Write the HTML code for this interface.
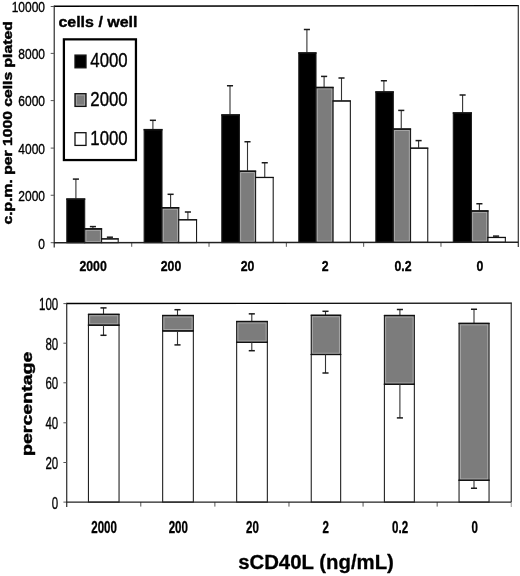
<!DOCTYPE html>
<html><head><meta charset="utf-8"><title>chart</title>
<style>
html,body{margin:0;padding:0;background:#fff;}
body{width:520px;height:576px;overflow:hidden;font-family:"Liberation Sans",sans-serif;}
svg{display:block;font-family:"Liberation Sans",sans-serif;will-change:transform;}
</style></head><body>
<svg width="520" height="576" viewBox="0 0 520 576">
<rect x="0" y="0" width="520" height="576" fill="#fff"/>
<line x1="54.25" y1="5.70" x2="54.25" y2="247.50" stroke="#444" stroke-width="1.35"/>
<line x1="53.80" y1="6.30" x2="518.80" y2="5.60" stroke="#000" stroke-width="1.4"/>
<line x1="518.30" y1="5.00" x2="518.30" y2="247.00" stroke="#333" stroke-width="1.2"/>
<line x1="131.72" y1="242.63" x2="131.72" y2="246.80" stroke="#555" stroke-width="1"/>
<line x1="209.03" y1="242.57" x2="209.03" y2="246.80" stroke="#555" stroke-width="1"/>
<line x1="286.35" y1="242.50" x2="286.35" y2="246.80" stroke="#555" stroke-width="1"/>
<line x1="363.67" y1="242.43" x2="363.67" y2="246.80" stroke="#555" stroke-width="1"/>
<line x1="440.98" y1="242.37" x2="440.98" y2="246.80" stroke="#555" stroke-width="1"/>
<line x1="50.70" y1="6.50" x2="54.40" y2="6.50" stroke="#555" stroke-width="1"/>
<text transform="translate(45.0,12.3) scale(0.8,1)" text-anchor="end" font-size="15" stroke="#000" stroke-width="0.35" stroke-linejoin="round" fill="#000">10000</text>
<line x1="50.70" y1="53.40" x2="54.40" y2="53.40" stroke="#555" stroke-width="1"/>
<text transform="translate(45.0,59.199999999999996) scale(0.8,1)" text-anchor="end" font-size="15" stroke="#000" stroke-width="0.35" stroke-linejoin="round" fill="#000">8000</text>
<line x1="50.70" y1="100.60" x2="54.40" y2="100.60" stroke="#555" stroke-width="1"/>
<text transform="translate(45.0,106.39999999999999) scale(0.8,1)" text-anchor="end" font-size="15" stroke="#000" stroke-width="0.35" stroke-linejoin="round" fill="#000">6000</text>
<line x1="50.70" y1="148.10" x2="54.40" y2="148.10" stroke="#555" stroke-width="1"/>
<text transform="translate(45.0,153.9) scale(0.8,1)" text-anchor="end" font-size="15" stroke="#000" stroke-width="0.35" stroke-linejoin="round" fill="#000">4000</text>
<line x1="50.70" y1="195.25" x2="54.40" y2="195.25" stroke="#555" stroke-width="1"/>
<text transform="translate(45.0,201.05) scale(0.8,1)" text-anchor="end" font-size="15" stroke="#000" stroke-width="0.35" stroke-linejoin="round" fill="#000">2000</text>
<line x1="50.70" y1="242.70" x2="54.40" y2="242.70" stroke="#555" stroke-width="1"/>
<text transform="translate(45.0,249.0) scale(0.8,1)" text-anchor="end" font-size="15" stroke="#000" stroke-width="0.35" stroke-linejoin="round" fill="#000">0</text>
<line x1="75.90" y1="179.10" x2="75.90" y2="198.60" stroke="#333" stroke-width="1.1"/>
<line x1="72.85" y1="179.10" x2="78.95" y2="179.10" stroke="#1a1a1a" stroke-width="1.5"/>
<line x1="92.90" y1="226.60" x2="92.90" y2="228.40" stroke="#333" stroke-width="1.1"/>
<line x1="89.85" y1="226.60" x2="95.95" y2="226.60" stroke="#1a1a1a" stroke-width="1.5"/>
<line x1="109.90" y1="237.20" x2="109.90" y2="238.40" stroke="#333" stroke-width="1.1"/>
<line x1="106.85" y1="237.20" x2="112.95" y2="237.20" stroke="#1a1a1a" stroke-width="1.5"/>
<rect x="66.80" y="199.10" width="17.90" height="43.59" fill="#000" stroke="#1c1c1c" stroke-width="1.1"/>
<line x1="66.25" y1="199.05" x2="85.25" y2="199.05" stroke="#111" stroke-width="1.5"/>
<rect x="84.70" y="228.90" width="16.90" height="13.77" fill="#7c7c7c" stroke="#1c1c1c" stroke-width="1.1"/>
<rect x="86.00" y="230.30" width="14.30" height="11.07" fill="none" stroke="#b0b0b0" stroke-width="0.8"/>
<line x1="84.15" y1="228.85" x2="102.15" y2="228.85" stroke="#111" stroke-width="1.5"/>
<rect x="101.60" y="238.90" width="16.60" height="3.76" fill="#fff" stroke="#1c1c1c" stroke-width="1.1"/>
<line x1="101.05" y1="238.85" x2="118.75" y2="238.85" stroke="#111" stroke-width="1.2"/>
<line x1="152.90" y1="120.30" x2="152.90" y2="129.20" stroke="#333" stroke-width="1.1"/>
<line x1="149.85" y1="120.30" x2="155.95" y2="120.30" stroke="#1a1a1a" stroke-width="1.5"/>
<line x1="170.60" y1="194.30" x2="170.60" y2="207.30" stroke="#333" stroke-width="1.1"/>
<line x1="167.55" y1="194.30" x2="173.65" y2="194.30" stroke="#1a1a1a" stroke-width="1.5"/>
<line x1="187.90" y1="212.00" x2="187.90" y2="219.30" stroke="#333" stroke-width="1.1"/>
<line x1="184.85" y1="212.00" x2="190.95" y2="212.00" stroke="#1a1a1a" stroke-width="1.5"/>
<rect x="144.15" y="129.70" width="17.85" height="112.92" fill="#000" stroke="#1c1c1c" stroke-width="1.1"/>
<line x1="143.60" y1="129.65" x2="162.55" y2="129.65" stroke="#111" stroke-width="1.5"/>
<rect x="162.00" y="207.80" width="16.75" height="34.81" fill="#7c7c7c" stroke="#1c1c1c" stroke-width="1.1"/>
<rect x="163.30" y="209.20" width="14.15" height="32.11" fill="none" stroke="#b0b0b0" stroke-width="0.8"/>
<line x1="161.45" y1="207.75" x2="179.30" y2="207.75" stroke="#111" stroke-width="1.5"/>
<rect x="178.75" y="219.80" width="17.80" height="22.79" fill="#fff" stroke="#1c1c1c" stroke-width="1.1"/>
<line x1="178.20" y1="219.75" x2="197.10" y2="219.75" stroke="#111" stroke-width="1.2"/>
<line x1="230.00" y1="85.75" x2="230.00" y2="114.50" stroke="#333" stroke-width="1.1"/>
<line x1="226.95" y1="85.75" x2="233.05" y2="85.75" stroke="#1a1a1a" stroke-width="1.5"/>
<line x1="247.50" y1="141.75" x2="247.50" y2="170.75" stroke="#333" stroke-width="1.1"/>
<line x1="244.45" y1="141.75" x2="250.55" y2="141.75" stroke="#1a1a1a" stroke-width="1.5"/>
<line x1="264.75" y1="162.75" x2="264.75" y2="177.00" stroke="#333" stroke-width="1.1"/>
<line x1="261.70" y1="162.75" x2="267.80" y2="162.75" stroke="#1a1a1a" stroke-width="1.5"/>
<rect x="221.80" y="115.00" width="17.60" height="127.56" fill="#000" stroke="#1c1c1c" stroke-width="1.1"/>
<line x1="221.25" y1="114.95" x2="239.95" y2="114.95" stroke="#111" stroke-width="1.5"/>
<rect x="239.40" y="171.25" width="16.20" height="71.29" fill="#7c7c7c" stroke="#1c1c1c" stroke-width="1.1"/>
<rect x="240.70" y="172.65" width="13.60" height="68.59" fill="none" stroke="#b0b0b0" stroke-width="0.8"/>
<line x1="238.85" y1="171.20" x2="256.15" y2="171.20" stroke="#111" stroke-width="1.5"/>
<rect x="255.60" y="177.50" width="17.60" height="65.03" fill="#fff" stroke="#1c1c1c" stroke-width="1.1"/>
<line x1="255.05" y1="177.45" x2="273.75" y2="177.45" stroke="#111" stroke-width="1.2"/>
<line x1="306.90" y1="29.50" x2="306.90" y2="52.50" stroke="#333" stroke-width="1.1"/>
<line x1="303.85" y1="29.50" x2="309.95" y2="29.50" stroke="#1a1a1a" stroke-width="1.5"/>
<line x1="324.10" y1="76.40" x2="324.10" y2="87.00" stroke="#333" stroke-width="1.1"/>
<line x1="321.05" y1="76.40" x2="327.15" y2="76.40" stroke="#1a1a1a" stroke-width="1.5"/>
<line x1="341.50" y1="78.00" x2="341.50" y2="100.50" stroke="#333" stroke-width="1.1"/>
<line x1="338.45" y1="78.00" x2="344.55" y2="78.00" stroke="#1a1a1a" stroke-width="1.5"/>
<rect x="298.80" y="53.00" width="17.20" height="189.49" fill="#000" stroke="#1c1c1c" stroke-width="1.1"/>
<line x1="298.25" y1="52.95" x2="316.55" y2="52.95" stroke="#111" stroke-width="1.5"/>
<rect x="316.00" y="87.50" width="17.10" height="154.97" fill="#7c7c7c" stroke="#1c1c1c" stroke-width="1.1"/>
<rect x="317.30" y="88.90" width="14.50" height="152.27" fill="none" stroke="#b0b0b0" stroke-width="0.8"/>
<line x1="315.45" y1="87.45" x2="333.65" y2="87.45" stroke="#111" stroke-width="1.5"/>
<rect x="333.10" y="101.00" width="17.25" height="141.46" fill="#fff" stroke="#1c1c1c" stroke-width="1.1"/>
<line x1="332.55" y1="100.95" x2="350.90" y2="100.95" stroke="#111" stroke-width="1.2"/>
<line x1="383.90" y1="80.75" x2="383.90" y2="91.50" stroke="#333" stroke-width="1.1"/>
<line x1="380.85" y1="80.75" x2="386.95" y2="80.75" stroke="#1a1a1a" stroke-width="1.5"/>
<line x1="401.25" y1="110.40" x2="401.25" y2="128.60" stroke="#333" stroke-width="1.1"/>
<line x1="398.20" y1="110.40" x2="404.30" y2="110.40" stroke="#1a1a1a" stroke-width="1.5"/>
<line x1="418.60" y1="140.60" x2="418.60" y2="147.70" stroke="#333" stroke-width="1.1"/>
<line x1="415.55" y1="140.60" x2="421.65" y2="140.60" stroke="#1a1a1a" stroke-width="1.5"/>
<rect x="375.85" y="92.00" width="17.45" height="150.42" fill="#000" stroke="#1c1c1c" stroke-width="1.1"/>
<line x1="375.30" y1="91.95" x2="393.85" y2="91.95" stroke="#111" stroke-width="1.5"/>
<rect x="393.30" y="129.10" width="17.25" height="113.31" fill="#7c7c7c" stroke="#1c1c1c" stroke-width="1.1"/>
<rect x="394.60" y="130.50" width="14.65" height="110.61" fill="none" stroke="#b0b0b0" stroke-width="0.8"/>
<line x1="392.75" y1="129.05" x2="411.10" y2="129.05" stroke="#111" stroke-width="1.5"/>
<rect x="410.55" y="148.20" width="17.20" height="94.19" fill="#fff" stroke="#1c1c1c" stroke-width="1.1"/>
<line x1="410.00" y1="148.15" x2="428.30" y2="148.15" stroke="#111" stroke-width="1.2"/>
<line x1="462.60" y1="95.00" x2="462.60" y2="112.50" stroke="#333" stroke-width="1.1"/>
<line x1="459.55" y1="95.00" x2="465.65" y2="95.00" stroke="#1a1a1a" stroke-width="1.5"/>
<line x1="479.40" y1="203.75" x2="479.40" y2="210.50" stroke="#333" stroke-width="1.1"/>
<line x1="476.35" y1="203.75" x2="482.45" y2="203.75" stroke="#1a1a1a" stroke-width="1.5"/>
<line x1="496.05" y1="236.10" x2="496.05" y2="237.00" stroke="#333" stroke-width="1.1"/>
<line x1="493.00" y1="236.10" x2="499.10" y2="236.10" stroke="#1a1a1a" stroke-width="1.5"/>
<rect x="453.30" y="113.00" width="18.10" height="129.36" fill="#000" stroke="#1c1c1c" stroke-width="1.1"/>
<line x1="452.75" y1="112.95" x2="471.95" y2="112.95" stroke="#111" stroke-width="1.5"/>
<rect x="471.40" y="211.00" width="16.60" height="31.34" fill="#7c7c7c" stroke="#1c1c1c" stroke-width="1.1"/>
<rect x="472.70" y="212.40" width="14.00" height="28.64" fill="none" stroke="#b0b0b0" stroke-width="0.8"/>
<line x1="470.85" y1="210.95" x2="488.55" y2="210.95" stroke="#111" stroke-width="1.5"/>
<rect x="488.00" y="237.50" width="17.35" height="4.83" fill="#fff" stroke="#1c1c1c" stroke-width="1.1"/>
<line x1="487.45" y1="237.45" x2="505.90" y2="237.45" stroke="#111" stroke-width="1.2"/>
<line x1="53.80" y1="242.70" x2="518.30" y2="242.30" stroke="#222" stroke-width="1.4"/>
<text transform="translate(93.1,271.3) scale(0.795,1)" text-anchor="middle" font-size="15.5" font-weight="bold" stroke="#000" stroke-width="0.35" stroke-linejoin="round" fill="#000">2000</text>
<text transform="translate(171.0,271.3) scale(0.795,1)" text-anchor="middle" font-size="15.5" font-weight="bold" stroke="#000" stroke-width="0.35" stroke-linejoin="round" fill="#000">200</text>
<text transform="translate(247.6,271.3) scale(0.795,1)" text-anchor="middle" font-size="15.5" font-weight="bold" stroke="#000" stroke-width="0.35" stroke-linejoin="round" fill="#000">20</text>
<text transform="translate(325.2,271.3) scale(0.795,1)" text-anchor="middle" font-size="15.5" font-weight="bold" stroke="#000" stroke-width="0.35" stroke-linejoin="round" fill="#000">2</text>
<text transform="translate(403.0,271.3) scale(0.795,1)" text-anchor="middle" font-size="15.5" font-weight="bold" stroke="#000" stroke-width="0.35" stroke-linejoin="round" fill="#000">0.2</text>
<text transform="translate(480.0,271.3) scale(0.795,1)" text-anchor="middle" font-size="15.5" font-weight="bold" stroke="#000" stroke-width="0.35" stroke-linejoin="round" fill="#000">0</text>
<text transform="translate(11.6,122.9) rotate(-90) scale(1.218,1)" text-anchor="middle" font-size="12.9" font-weight="bold" stroke="#000" stroke-width="0.45" stroke-linejoin="round" fill="#000">c.p.m. per 1000 cells plated</text>
<text transform="translate(58.4,26.8) scale(1.066,1)" text-anchor="start" font-size="15" font-weight="bold" stroke="#000" stroke-width="0.4" stroke-linejoin="round" fill="#000">cells / well</text>
<rect x="63.9" y="39.35" width="72.05" height="120.7" fill="#fff" stroke="#000" stroke-width="2.25"/>
<rect x="75.00" y="55.10" width="11.00" height="12.70" fill="#000" stroke="#111" stroke-width="1.3"/>
<text transform="translate(90.3,66.8) scale(0.8,1)" text-anchor="start" font-size="21" stroke="#000" stroke-width="0.4" stroke-linejoin="round" fill="#000">4000</text>
<rect x="75.00" y="93.70" width="11.00" height="12.70" fill="#7c7c7c" stroke="#111" stroke-width="1.3"/>
<rect x="76.4" y="95.10" width="8.2" height="9.9" fill="none" stroke="#a8a8a8" stroke-width="0.8"/>
<text transform="translate(90.3,105.9) scale(0.8,1)" text-anchor="start" font-size="21" stroke="#000" stroke-width="0.4" stroke-linejoin="round" fill="#000">2000</text>
<rect x="75.00" y="132.70" width="11.00" height="12.70" fill="#fff" stroke="#111" stroke-width="1.3"/>
<text transform="translate(90.3,144.8) scale(0.8,1)" text-anchor="start" font-size="21" stroke="#000" stroke-width="0.4" stroke-linejoin="round" fill="#000">1000</text>
<line x1="66.70" y1="302.90" x2="66.70" y2="507.00" stroke="#3a3a3a" stroke-width="1.3"/>
<line x1="66.10" y1="303.50" x2="511.75" y2="303.20" stroke="#000" stroke-width="1.3"/>
<line x1="511.25" y1="302.70" x2="511.25" y2="502.10" stroke="#333" stroke-width="1.2"/>
<line x1="511.25" y1="502.10" x2="511.25" y2="507.00" stroke="#999" stroke-width="1"/>
<line x1="140.79" y1="502.10" x2="140.79" y2="506.60" stroke="#555" stroke-width="1"/>
<line x1="214.88" y1="502.10" x2="214.88" y2="506.60" stroke="#555" stroke-width="1"/>
<line x1="288.98" y1="502.10" x2="288.98" y2="506.60" stroke="#555" stroke-width="1"/>
<line x1="363.07" y1="502.10" x2="363.07" y2="506.60" stroke="#555" stroke-width="1"/>
<line x1="437.16" y1="502.10" x2="437.16" y2="506.60" stroke="#555" stroke-width="1"/>
<line x1="63.40" y1="303.60" x2="66.70" y2="303.60" stroke="#555" stroke-width="1"/>
<text transform="translate(58.2,310.1) scale(0.665,1)" text-anchor="end" font-size="17.3" stroke="#000" stroke-width="0.35" stroke-linejoin="round" fill="#000">100</text>
<line x1="63.40" y1="343.20" x2="66.70" y2="343.20" stroke="#555" stroke-width="1"/>
<text transform="translate(58.2,349.7) scale(0.665,1)" text-anchor="end" font-size="17.3" stroke="#000" stroke-width="0.35" stroke-linejoin="round" fill="#000">80</text>
<line x1="63.40" y1="382.80" x2="66.70" y2="382.80" stroke="#555" stroke-width="1"/>
<text transform="translate(58.2,389.3) scale(0.665,1)" text-anchor="end" font-size="17.3" stroke="#000" stroke-width="0.35" stroke-linejoin="round" fill="#000">60</text>
<line x1="63.40" y1="422.80" x2="66.70" y2="422.80" stroke="#555" stroke-width="1"/>
<text transform="translate(58.2,429.3) scale(0.665,1)" text-anchor="end" font-size="17.3" stroke="#000" stroke-width="0.35" stroke-linejoin="round" fill="#000">40</text>
<line x1="63.40" y1="462.50" x2="66.70" y2="462.50" stroke="#555" stroke-width="1"/>
<text transform="translate(58.2,469.0) scale(0.665,1)" text-anchor="end" font-size="17.3" stroke="#000" stroke-width="0.35" stroke-linejoin="round" fill="#000">20</text>
<line x1="63.40" y1="502.10" x2="66.70" y2="502.10" stroke="#555" stroke-width="1"/>
<text transform="translate(58.2,508.6) scale(0.665,1)" text-anchor="end" font-size="17.3" stroke="#000" stroke-width="0.35" stroke-linejoin="round" fill="#000">0</text>
<line x1="103.50" y1="307.90" x2="103.50" y2="314.30" stroke="#333" stroke-width="1.1"/>
<line x1="100.45" y1="307.90" x2="106.55" y2="307.90" stroke="#1a1a1a" stroke-width="1.5"/>
<rect x="88.45" y="325.20" width="30.60" height="176.90" fill="#fff" stroke="#222" stroke-width="1.1"/>
<rect x="88.45" y="314.30" width="30.60" height="10.90" fill="#7c7c7c" stroke="#1c1c1c" stroke-width="1.1"/>
<rect x="89.75" y="315.80" width="28.00" height="8.10" fill="none" stroke="#b0b0b0" stroke-width="0.8"/>
<line x1="87.90" y1="314.30" x2="119.60" y2="314.30" stroke="#111" stroke-width="1.35"/>
<line x1="87.90" y1="325.20" x2="119.60" y2="325.20" stroke="#111" stroke-width="1.2"/>
<line x1="103.50" y1="325.20" x2="103.50" y2="335.30" stroke="#333" stroke-width="1.1"/>
<line x1="100.45" y1="335.30" x2="106.55" y2="335.30" stroke="#1a1a1a" stroke-width="1.5"/>
<line x1="177.50" y1="309.70" x2="177.50" y2="315.50" stroke="#333" stroke-width="1.1"/>
<line x1="174.45" y1="309.70" x2="180.55" y2="309.70" stroke="#1a1a1a" stroke-width="1.5"/>
<rect x="162.65" y="330.90" width="30.70" height="171.20" fill="#fff" stroke="#222" stroke-width="1.1"/>
<rect x="162.65" y="315.50" width="30.70" height="15.40" fill="#7c7c7c" stroke="#1c1c1c" stroke-width="1.1"/>
<rect x="163.95" y="317.00" width="28.10" height="12.60" fill="none" stroke="#b0b0b0" stroke-width="0.8"/>
<line x1="162.10" y1="315.50" x2="193.90" y2="315.50" stroke="#111" stroke-width="1.35"/>
<line x1="162.10" y1="330.90" x2="193.90" y2="330.90" stroke="#111" stroke-width="1.2"/>
<line x1="177.50" y1="330.90" x2="177.50" y2="344.90" stroke="#333" stroke-width="1.1"/>
<line x1="174.45" y1="344.90" x2="180.55" y2="344.90" stroke="#1a1a1a" stroke-width="1.5"/>
<line x1="251.80" y1="313.85" x2="251.80" y2="321.50" stroke="#333" stroke-width="1.1"/>
<line x1="248.75" y1="313.85" x2="254.85" y2="313.85" stroke="#1a1a1a" stroke-width="1.5"/>
<rect x="236.65" y="342.30" width="30.70" height="159.80" fill="#fff" stroke="#222" stroke-width="1.1"/>
<rect x="236.65" y="321.50" width="30.70" height="20.80" fill="#7c7c7c" stroke="#1c1c1c" stroke-width="1.1"/>
<rect x="237.95" y="323.00" width="28.10" height="18.00" fill="none" stroke="#b0b0b0" stroke-width="0.8"/>
<line x1="236.10" y1="321.50" x2="267.90" y2="321.50" stroke="#111" stroke-width="1.35"/>
<line x1="236.10" y1="342.30" x2="267.90" y2="342.30" stroke="#111" stroke-width="1.2"/>
<line x1="251.80" y1="342.30" x2="251.80" y2="350.70" stroke="#333" stroke-width="1.1"/>
<line x1="248.75" y1="350.70" x2="254.85" y2="350.70" stroke="#1a1a1a" stroke-width="1.5"/>
<line x1="325.50" y1="311.30" x2="325.50" y2="315.30" stroke="#333" stroke-width="1.1"/>
<line x1="322.45" y1="311.30" x2="328.55" y2="311.30" stroke="#1a1a1a" stroke-width="1.5"/>
<rect x="311.25" y="354.50" width="29.40" height="147.60" fill="#fff" stroke="#222" stroke-width="1.1"/>
<rect x="311.25" y="315.30" width="29.40" height="39.20" fill="#7c7c7c" stroke="#1c1c1c" stroke-width="1.1"/>
<rect x="312.55" y="316.80" width="26.80" height="36.40" fill="none" stroke="#b0b0b0" stroke-width="0.8"/>
<line x1="310.70" y1="315.30" x2="341.20" y2="315.30" stroke="#111" stroke-width="1.35"/>
<line x1="310.70" y1="354.50" x2="341.20" y2="354.50" stroke="#111" stroke-width="1.2"/>
<line x1="325.50" y1="354.50" x2="325.50" y2="373.00" stroke="#333" stroke-width="1.1"/>
<line x1="322.45" y1="373.00" x2="328.55" y2="373.00" stroke="#1a1a1a" stroke-width="1.5"/>
<line x1="399.90" y1="309.50" x2="399.90" y2="315.50" stroke="#333" stroke-width="1.1"/>
<line x1="396.85" y1="309.50" x2="402.95" y2="309.50" stroke="#1a1a1a" stroke-width="1.5"/>
<rect x="384.40" y="384.25" width="29.95" height="117.85" fill="#fff" stroke="#222" stroke-width="1.1"/>
<rect x="384.40" y="315.50" width="29.95" height="68.75" fill="#7c7c7c" stroke="#1c1c1c" stroke-width="1.1"/>
<rect x="385.70" y="317.00" width="27.35" height="65.95" fill="none" stroke="#b0b0b0" stroke-width="0.8"/>
<line x1="383.85" y1="315.50" x2="414.90" y2="315.50" stroke="#111" stroke-width="1.35"/>
<line x1="383.85" y1="384.25" x2="414.90" y2="384.25" stroke="#111" stroke-width="1.2"/>
<line x1="399.90" y1="384.25" x2="399.90" y2="417.90" stroke="#333" stroke-width="1.1"/>
<line x1="396.85" y1="417.90" x2="402.95" y2="417.90" stroke="#1a1a1a" stroke-width="1.5"/>
<line x1="474.00" y1="309.25" x2="474.00" y2="323.40" stroke="#333" stroke-width="1.1"/>
<line x1="470.95" y1="309.25" x2="477.05" y2="309.25" stroke="#1a1a1a" stroke-width="1.5"/>
<rect x="459.05" y="480.25" width="30.00" height="21.85" fill="#fff" stroke="#222" stroke-width="1.1"/>
<rect x="459.05" y="323.40" width="30.00" height="156.85" fill="#7c7c7c" stroke="#1c1c1c" stroke-width="1.1"/>
<rect x="460.35" y="324.90" width="27.40" height="154.05" fill="none" stroke="#b0b0b0" stroke-width="0.8"/>
<line x1="458.50" y1="323.40" x2="489.60" y2="323.40" stroke="#111" stroke-width="1.35"/>
<line x1="458.50" y1="480.25" x2="489.60" y2="480.25" stroke="#111" stroke-width="1.2"/>
<line x1="474.00" y1="480.25" x2="474.00" y2="488.25" stroke="#333" stroke-width="1.1"/>
<line x1="470.95" y1="488.25" x2="477.05" y2="488.25" stroke="#1a1a1a" stroke-width="1.5"/>
<line x1="66.10" y1="502.10" x2="511.25" y2="502.10" stroke="#222" stroke-width="1.4"/>
<text transform="translate(104.1,533.3) scale(0.68,1)" text-anchor="middle" font-size="17" font-weight="bold" stroke="#000" stroke-width="0.35" stroke-linejoin="round" fill="#000">2000</text>
<text transform="translate(178.3,533.3) scale(0.68,1)" text-anchor="middle" font-size="17" font-weight="bold" stroke="#000" stroke-width="0.35" stroke-linejoin="round" fill="#000">200</text>
<text transform="translate(252.5,533.3) scale(0.68,1)" text-anchor="middle" font-size="17" font-weight="bold" stroke="#000" stroke-width="0.35" stroke-linejoin="round" fill="#000">20</text>
<text transform="translate(325.6,533.3) scale(0.68,1)" text-anchor="middle" font-size="17" font-weight="bold" stroke="#000" stroke-width="0.35" stroke-linejoin="round" fill="#000">2</text>
<text transform="translate(400.1,533.3) scale(0.68,1)" text-anchor="middle" font-size="17" font-weight="bold" stroke="#000" stroke-width="0.35" stroke-linejoin="round" fill="#000">0.2</text>
<text transform="translate(474.8,533.3) scale(0.68,1)" text-anchor="middle" font-size="17" font-weight="bold" stroke="#000" stroke-width="0.35" stroke-linejoin="round" fill="#000">0</text>
<text transform="translate(32.4,403.8) rotate(-90) scale(1.29,1)" text-anchor="middle" font-size="15.2" font-weight="bold" stroke="#000" stroke-width="0.45" stroke-linejoin="round" fill="#000">percentage</text>
<text transform="translate(316,568.6) scale(1.003,1)" text-anchor="middle" font-size="20.3" font-weight="bold" stroke="#000" stroke-width="0.3" stroke-linejoin="round" fill="#000">sCD40L (ng/mL)</text>
</svg>
</body></html>
